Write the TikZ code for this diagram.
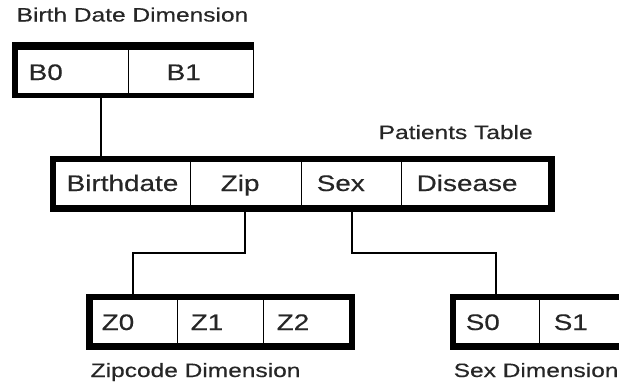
\documentclass[tikz,border=0pt]{standalone}
\usepackage{fontspec}
\setmainfont{Liberation Sans}
\newfontfamily\diagfont[FakeBold=0.3]{Liberation Sans}
\usepackage{graphicx}
\newcommand\mylbl[1]{\scalebox{1.27}[1]{#1}}
\newcommand\mycell[1]{\scalebox{1.24}[1]{#1}}
\tikzset{
  frame/.style={fill=black, inner sep=0pt, outer sep=0pt, anchor=north west, minimum height=56pt},
  cell/.style={fill=white, draw=black, line width=0.9pt, inner sep=0pt, outer sep=0pt, anchor=north west, minimum height=44pt},
  lbltxt/.style={anchor=base west, inner sep=0pt, text=black!85, font=\diagfont\fontsize{19.3}{21}\selectfont},
  celltxt/.style={anchor=base west, inner sep=0pt, text=black!85, font=\diagfont\fontsize{22.5}{24}\selectfont},
  conn/.style={draw=black, line width=1.2pt}
}
\begin{document}
\begin{tikzpicture}[x=1pt, y=-1pt]
\useasboundingbox (0,0) rectangle (619,386);
\clip (0,0) rectangle (619,386);
\fill[white] (0,0) rectangle (619,386);
% Birth Date Dimension
\node[frame, minimum width=241.5pt] (bframe) at (12,42) {};
\node[cell, minimum width=111pt] (b0) at (17,49) {};
\node[cell, minimum width=125pt] (b1) at (128,49) {};
\node[celltxt] (tb0) at (28.5,80) {\mycell{B0}};
\node[celltxt] (tb1) at (166.5,80) {\mycell{B1}};
\node[lbltxt] (lb) at (16.5,21.5) {\mylbl{Birth Date Dimension}};
% Patients Table
\node[frame, minimum width=505pt] (pframe) at (50,156) {};
\node[cell, minimum width=135pt] (pbd) at (55,161) {};
\node[cell, minimum width=111pt] (pzip) at (190,161) {};
\node[cell, minimum width=100pt] (psex) at (301,161) {};
\node[cell, minimum width=147pt] (pdis) at (401,161) {};
\node[celltxt] (tbd) at (66.5,191) {\mycell{Birthdate}};
\node[celltxt] (tzip) at (220.5,191) {\mycell{Zip}};
\node[celltxt] (tsex) at (316.5,191) {\mycell{Sex}};
\node[celltxt] (tdis) at (416.5,191) {\mycell{Disease}};
\node[lbltxt] (lp) at (378.5,139) {\mylbl{Patients Table}};
% Zipcode Dimension
\node[frame, minimum width=269pt] (zframe) at (86,294) {};
\node[cell, minimum width=85pt] (z0) at (92,299) {};
\node[cell, minimum width=86pt] (z1) at (177,299) {};
\node[cell, minimum width=86pt] (z2) at (263,299) {};
\node[celltxt] (tz0) at (101.5,330) {\mycell{Z0}};
\node[celltxt] (tz1) at (190.5,330) {\mycell{Z1}};
\node[celltxt] (tz2) at (276.5,330) {\mycell{Z2}};
\node[lbltxt] (lz) at (90.5,377) {\mylbl{Zipcode Dimension}};
% Sex Dimension
\node[frame, minimum width=200pt] (sframe) at (450,294) {};
\node[cell, minimum width=84pt] (s0) at (455,299) {};
\node[cell, minimum width=100pt] (s1) at (539,299) {};
\node[celltxt] (ts0) at (465.5,330) {\mycell{S0}};
\node[celltxt] (ts1) at (553.5,330) {\mycell{S1}};
\node[lbltxt] (ls) at (453.5,377) {\mylbl{Sex Dimension}};
% connectors
\draw[conn] ([xshift=89pt]bframe.south west) -- ([xshift=51pt]pframe.north west);
\draw[conn] ([xshift=195pt]pframe.south west) -- ++(0,41) -| ([xshift=47pt]zframe.north west);
\draw[conn] ([xshift=302pt]pframe.south west) -- ++(0,41) -| ([xshift=46pt]sframe.north west);
\end{tikzpicture}
\end{document}
